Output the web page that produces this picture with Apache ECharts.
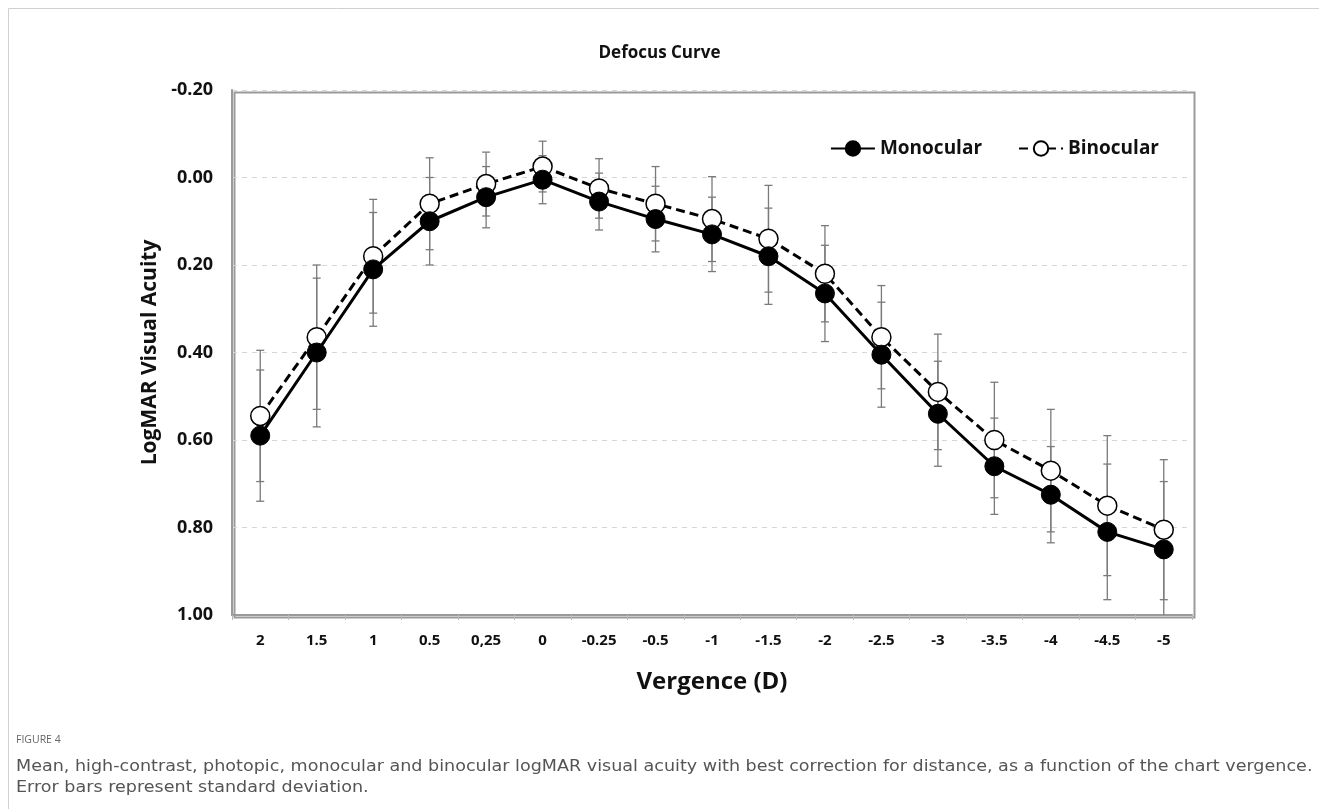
<!DOCTYPE html>
<html>

<head>
  <meta charset="utf-8" />
  <script src="https://cdn.jsdelivr.net/npm/echarts@6/dist/echarts.min.js"></script>
</head>

<body style="margin:0;background:#fff;">
  <div id="main" style="width: 1319px;height:809px;"></div>
  <script type="text/javascript">
    var vergence = ['2', '1.5', '1', '0.5', '0,25', '0', '-0.25', '-0.5', '-1', '-1.5', '-2', '-2.5', '-3', '-3.5', '-4', '-4.5', '-5']
    var monocular = [0.59, 0.40, 0.21, 0.10, 0.045, 0.005, 0.055, 0.095, 0.13, 0.18, 0.265, 0.405, 0.54, 0.66, 0.725, 0.81, 0.85]
    var monocularSD = [0.15, 0.17, 0.13, 0.10, 0.07, 0.055, 0.065, 0.075, 0.085, 0.11, 0.11, 0.12, 0.12, 0.11, 0.11, 0.155, 0.155]
    var binocular = [0.545, 0.365, 0.18, 0.06, 0.015, -0.025, 0.025, 0.06, 0.095, 0.14, 0.22, 0.365, 0.49, 0.60, 0.67, 0.75, 0.805]
    var binocularSD = [0.15, 0.165, 0.13, 0.105, 0.073, 0.058, 0.068, 0.085, 0.097, 0.122, 0.11, 0.118, 0.132, 0.132, 0.14, 0.16, 0.16]

    var font = '"Open Sans", sans-serif'

    function errData(mean, sd) {
      return mean.map(function (m, i) {
        return [i, m - sd[i], m + sd[i]]
      })
    }

    function renderErr(params, api) {
      var x = api.value(0)
      var lo = api.coord([x, api.value(1)])
      var hi = api.coord([x, api.value(2)])
      var cap = 4
      var style = { stroke: '#7a7a7a', lineWidth: 1.3 }
      return {
        type: 'group',
        children: [
          { type: 'line', shape: { x1: lo[0], y1: lo[1], x2: hi[0], y2: hi[1] }, style: style },
          { type: 'line', shape: { x1: lo[0] - cap, y1: lo[1], x2: lo[0] + cap, y2: lo[1] }, style: style },
          { type: 'line', shape: { x1: hi[0] - cap, y1: hi[1], x2: hi[0] + cap, y2: hi[1] }, style: style }
        ]
      }
    }

    var myChart = echarts.init(document.getElementById('main'));

    var option = {
      backgroundColor: '#fff',
      animation: false,
      textStyle: { fontFamily: font },
      title: {
        text: 'Defocus Curve',
        left: 'center',
        top: 40,
        textStyle: { fontSize: 17, fontWeight: 'bold', color: '#111', fontFamily: font }
      },
      legend: {
        right: 155,
        top: 134,
        itemWidth: 44,
        itemHeight: 18,
        itemGap: 36,
        textStyle: { fontSize: 19, fontWeight: 'bold', color: '#111', fontFamily: font },
        data: ['Monocular', 'Binocular']
      },
      grid: { left: 232, right: 127, top: 90, bottom: 194 },
      xAxis: {
        type: 'category',
        data: vergence,
        boundaryGap: true,
        name: 'Vergence (D)',
        nameLocation: 'middle',
        nameGap: 55,
        nameTextStyle: { fontSize: 24, fontWeight: 'bold', color: '#111', fontFamily: font },
        axisLine: { onZero: false, lineStyle: { color: '#9a9a9a', width: 2 } },
        axisTick: { show: true, length: 5, lineStyle: { color: '#bbb' } },
        axisLabel: { fontSize: 15, fontWeight: 'bold', color: '#111', margin: 18 }
      },
      yAxis: {
        type: 'value',
        inverse: true,
        min: -0.2,
        max: 1.0,
        interval: 0.2,
        name: 'LogMAR Visual Acuity',
        nameLocation: 'middle',
        nameGap: 69,
        nameTextStyle: { fontSize: 21, fontWeight: 'bold', color: '#111', fontFamily: font },
        axisLine: { show: true, lineStyle: { color: '#9a9a9a', width: 2 } },
        axisTick: { show: false },
        axisLabel: {
          fontSize: 18, fontWeight: 'bold', color: '#111', margin: 19,
          formatter: function (v) { return v.toFixed(2) }
        },
        splitLine: { lineStyle: { color: '#d6d6d6', type: [5, 5] } }
      },
      graphic: [
        {
          type: 'rect', left: 6, top: 6, silent: true,
          shape: { width: 1330, height: 820 },
          style: { fill: 'none', stroke: '#d0d0d0', lineWidth: 1 }
        },
        {
          type: 'rect', left: 232, top: 90, silent: true, z: -1,
          shape: { width: 960, height: 525 },
          style: { fill: 'none', stroke: '#9a9a9a', lineWidth: 2 }
        },
        {
          type: 'text', left: 16, top: 735,
          style: { text: 'FIGURE 4', fontSize: 10.5, fill: '#666', fontFamily: font }
        },
        {
          type: 'text', x: 16, y: 757, scaleX: 1.17, originX: 0,
          style: {
            text: 'Mean, high-contrast, photopic, monocular and binocular logMAR visual acuity with best correction for distance, as a function of the chart vergence.\nError bars represent standard deviation.',
            fontSize: 15, lineHeight: 21, fill: '#555', fontFamily: '"DejaVu Sans", sans-serif'
          }
        }
      ],
      series: [
        {
          name: 'errMono',
          type: 'custom',
          clip: true,
          renderItem: renderErr,
          data: errData(monocular, monocularSD),
          z: 1
        },
        {
          name: 'errBino',
          type: 'custom',
          clip: true,
          renderItem: renderErr,
          data: errData(binocular, binocularSD),
          z: 1
        },
        {
          name: 'Binocular',
          type: 'line',
          data: binocular,
          symbol: 'circle',
          symbolSize: 19,
          z: 3,
          lineStyle: { color: '#000', width: 3, type: [9, 5] },
          itemStyle: { color: '#fff', borderColor: '#000', borderWidth: 1.5 }
        },
        {
          name: 'Monocular',
          type: 'line',
          data: monocular,
          symbol: 'circle',
          symbolSize: 19,
          z: 4,
          lineStyle: { color: '#000', width: 3 },
          itemStyle: { color: '#000', borderColor: '#000', borderWidth: 1 }
        }
      ]
    };

    myChart.setOption(option);
  </script>
</body>

</html>
